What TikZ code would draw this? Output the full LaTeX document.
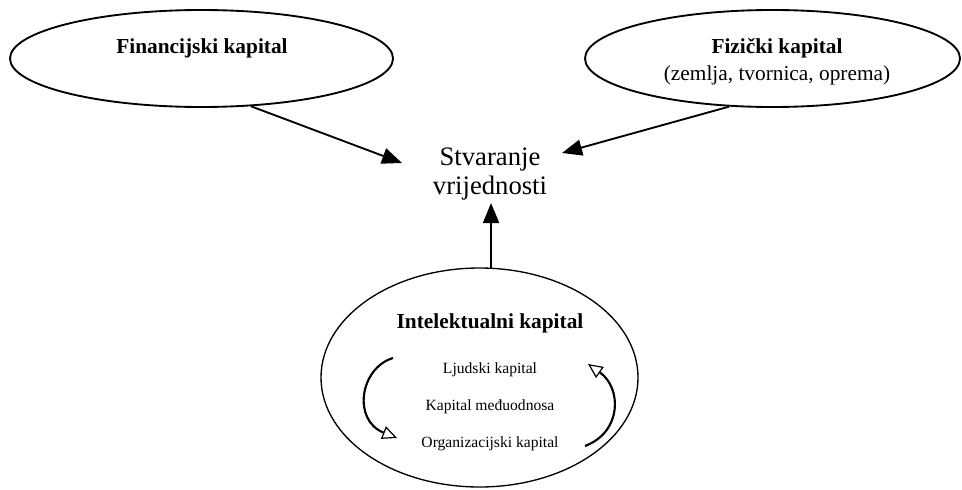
\documentclass[tikz,border=0pt]{standalone}
\usepackage{fontspec}
\setmainfont{Liberation Serif}
\usetikzlibrary{arrows.meta,shapes.geometric}
\begin{document}
\begin{tikzpicture}[x=0.75pt,y=-0.75pt,
  capital/.style={draw, ellipse, line width=1.4pt, inner sep=0pt},
  heading/.style={anchor=base, inner sep=0pt, font=\fontsize{16}{19}\selectfont\bfseries},
  plain/.style={anchor=base, inner sep=0pt, font=\fontsize{16}{19}\selectfont},
  value/.style={anchor=base, inner sep=0pt, font=\fontsize{20}{24}\selectfont},
  part/.style={anchor=base, inner sep=0pt, font=\fontsize{11.7}{14}\selectfont},
  flow/.style={line width=1.4pt, -{Triangle[length=15pt,width=12pt]}},
  cyclearrow/.style={line width=1.6pt,
    -{Triangle[fill=white,length=11pt,width=10pt,line width=0.9pt]}}]
\useasboundingbox (0,0) rectangle (962,489);

% the three kinds of capital
\node[capital, minimum width=287.25pt, minimum height=72.75pt] (fin) at (201.5,58.5) {};
\node[capital, minimum width=281.25pt, minimum height=72.75pt] (fiz) at (772.5,58.5) {};
\node[capital, line width=1pt, minimum width=237.75pt, minimum height=164.25pt] (ic) at (479.5,377.5) {};

\node[heading] (fintext) at (202,53) {Financijski kapital};
\node[heading] (fiztext) at (777,53) {Fizički kapital};
\node[plain]   (fizsub)  at (777,80) {(zemlja, tvornica, oprema)};

% value creation in the middle
\node[value] (val1) at (490,165) {Stvaranje};
\node[value] (val2) at (490,194) {vrijednosti};

% contents of intellectual capital
\node[heading] (ictext) at (490,328) {Intelektualni kapital};
\node[part] (hum) at (490,373) {Ljudski kapital};
\node[part] (rel) at (490,410) {Kapital međuodnosa};
\node[part] (org) at (490,447) {Organizacijski kapital};

% arrows into value creation
\coordinate (t1) at (402,163);
\coordinate (t2) at (562,153);
\coordinate (t3) at (490,203);
\draw[flow] (fin.-44) -- (t1);
\draw[flow] (fiz.-132) -- (t2);
\draw[flow] (ic.84.5) -- (ic.84.5 |- t3);

% circulation between the components
\draw[cyclearrow] (393,358) .. controls (360,368) and (352,420) .. (397,438);
\draw[cyclearrow] (585,446) .. controls (622,432) and (622,388) .. (588,364);
\end{tikzpicture}
\end{document}
